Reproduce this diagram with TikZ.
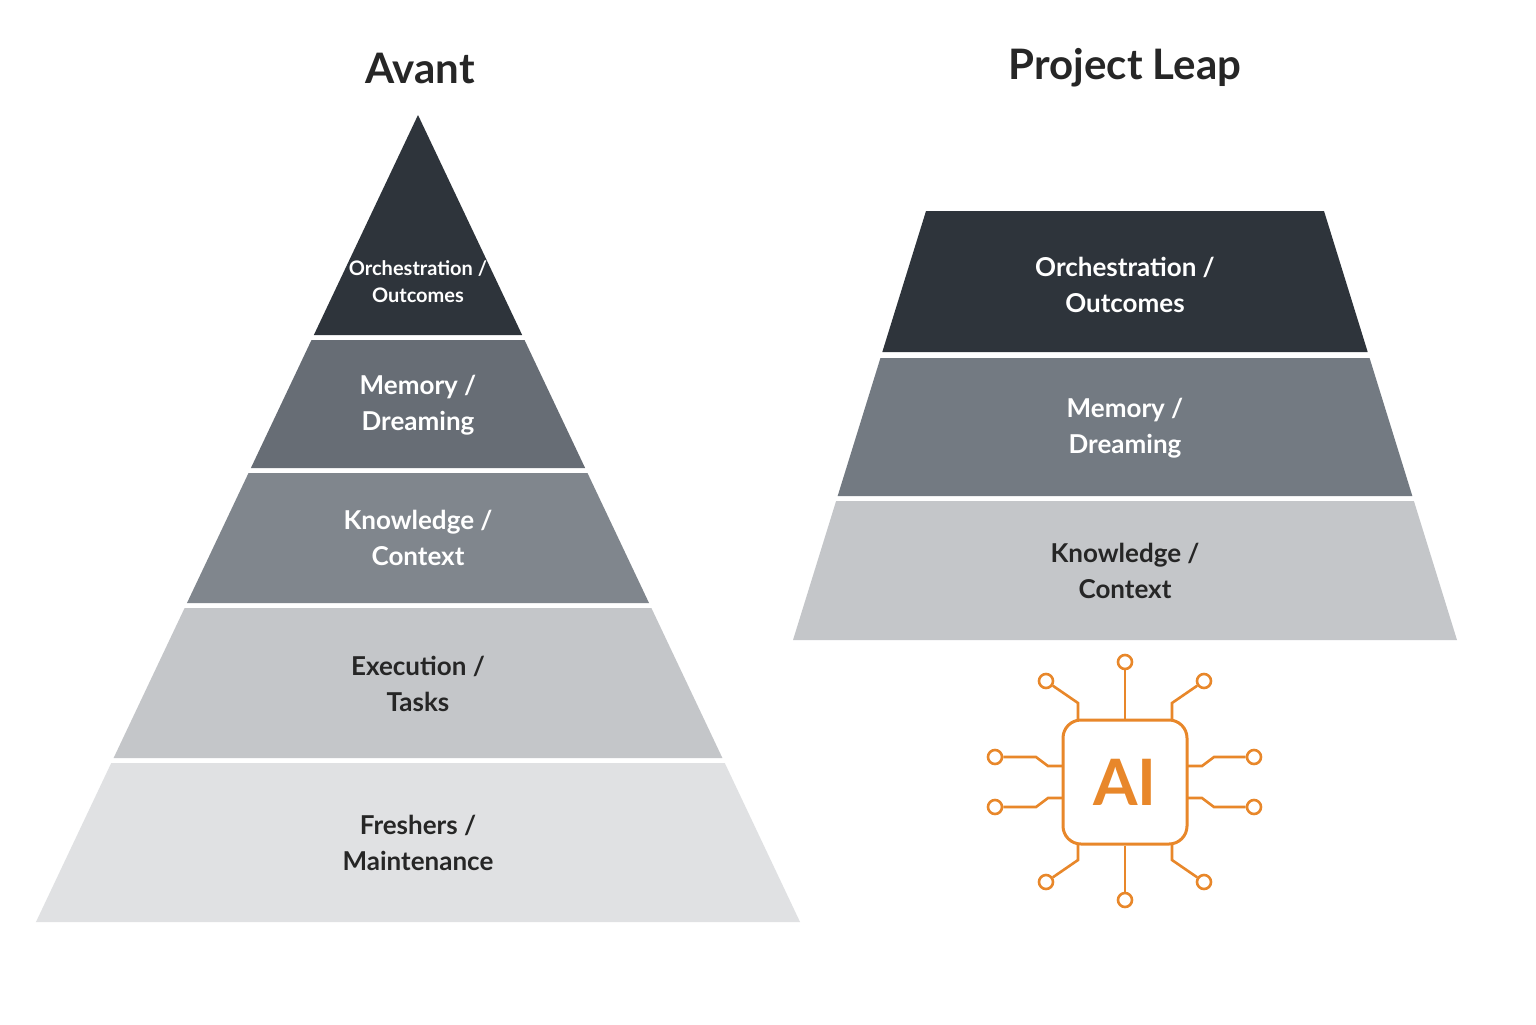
\documentclass[tikz,border=0pt]{standalone}
\usepackage{fontspec}
\setmainfont{Lato}
\usetikzlibrary{positioning}
\definecolor{bandA}{HTML}{2E343B}
\definecolor{bandB}{HTML}{676D75}
\definecolor{bandRB}{HTML}{737A82}
\definecolor{bandC}{HTML}{80868D}
\definecolor{bandD}{HTML}{C4C6C9}
\definecolor{bandE}{HTML}{E0E1E3}
\definecolor{chipor}{HTML}{E8872A}
\tikzset{
  title/.style={font=\fontsize{21}{24}\selectfont\bfseries, text=black!85},
  lbl/.style={align=center, font=\fontsize{13}{18}\selectfont\bfseries},
  lblsm/.style={align=center, font=\fontsize{10}{13.5}\selectfont\bfseries},
  pin/.style={circle, draw=chipor, line width=1.3pt, fill=white, minimum size=7pt, inner sep=0pt},
  wire/.style={draw=chipor, line width=1.3pt},
}
\begin{document}
\begin{tikzpicture}[x=0.5pt,y=-0.5pt]
  \useasboundingbox[fill=white] (0,0) rectangle (1536,1024);

  % titles
  \node[title] (tavant) at (420,68) {Avant};
  \node[title] (tleap) at (1125,68) {Project Leap};

  % left pyramid bands
  \foreach \ya/\yb/\col in {115/335/bandA, 340/468/bandB, 473/603/bandC, 608/758/bandD, 763/922/bandE}
    \fill[\col] ({418-0.4734*(\ya-115)},\ya) -- ({418+0.4734*(\ya-115)},\ya)
      -- ({418+0.4734*(\yb-115)},\yb) -- ({418-0.4734*(\yb-115)},\yb) -- cycle;

  \node[lblsm, text=white] (lorch) at (418,282) {Orchestration /\\Outcomes};
  \node[lbl, text=white] (lmem) at (418,405) {Memory /\\Dreaming};
  \node[lbl, text=white] (lknow) at (418,538) {Knowledge /\\Context};
  \node[lbl, text=black!85] (lexec) at (418,684) {Execution /\\Tasks};
  \node[lbl, text=black!85] (lfresh) at (418,843) {Freshers /\\Maintenance};

  % right trapezoid bands
  \foreach \ya/\yb/\col in {211/352/bandA, 358/496/bandRB, 501/640/bandD}
    \fill[\col] ({1125-199-0.31*(\ya-211)},\ya) -- ({1125+199+0.31*(\ya-211)},\ya)
      -- ({1125+199+0.31*(\yb-211)},\yb) -- ({1125-199-0.31*(\yb-211)},\yb) -- cycle;

  \node[lbl, text=white] (rorch) at (1125,285) {Orchestration /\\Outcomes};
  \node[lbl, text=white] (rmem) at (1125,428) {Memory /\\Dreaming};
  \node[lbl, text=black!85] (rknow) at (1125,571) {Knowledge /\\Context};

  % AI chip
  \node[draw=chipor, line width=1.5pt, rounded corners=9pt, minimum size=62pt,
        text=chipor, font=\fontsize{32}{32}\selectfont\bfseries] (chip) at (1125,782) {AI};

  \node[pin] (pt) at (1125,662) {};
  \node[pin] (ptl) at (1046,681) {};
  \node[pin] (ptr) at (1204,681) {};
  \node[pin] (pb) at (1125,900) {};
  \node[pin] (pbl) at (1046,882) {};
  \node[pin] (pbr) at (1204,882) {};
  \node[pin] (pl1) at (995,757) {};
  \node[pin] (pl2) at (995,807) {};
  \node[pin] (pr1) at (1254,757) {};
  \node[pin] (pr2) at (1254,807) {};

  \draw[wire] (chip.north) -- (pt);
  \draw[wire] (chip.south) -- (pb);
  \draw[wire] (1078,720) -- (1078,703) -- (ptl);
  \draw[wire] (1172,720) -- (1172,703) -- (ptr);
  \draw[wire] (1078,843) -- (1078,860) -- (pbl);
  \draw[wire] (1172,843) -- (1172,860) -- (pbr);
  \draw[wire] (1062,766) -- (1048,766) -- (1036,757) -- (pl1);
  \draw[wire] (1062,798) -- (1048,798) -- (1036,807) -- (pl2);
  \draw[wire] (1188,766) -- (1202,766) -- (1214,757) -- (pr1);
  \draw[wire] (1188,798) -- (1202,798) -- (1214,807) -- (pr2);
\end{tikzpicture}
\end{document}
